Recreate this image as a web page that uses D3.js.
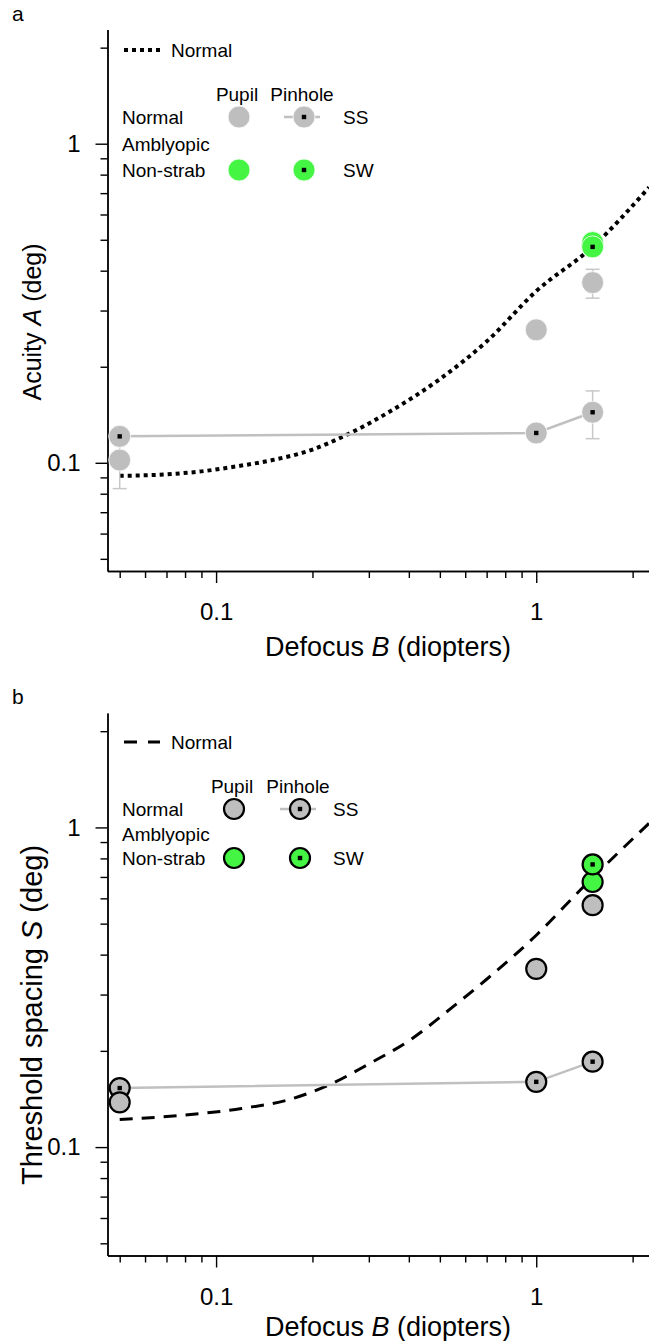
<!DOCTYPE html>
<html><head><meta charset="utf-8">
<script src="https://cdn.jsdelivr.net/npm/d3@7"></script>
<style>
html,body{margin:0;padding:0;background:#fff;}
svg text{font-family:"Liberation Sans",Arial,Helvetica,sans-serif;fill:#000;}
</style></head>
<body>
<svg id="chart" width="649" height="1341"></svg>
<script>
// ---------- data ----------
const defocusNormal = [0.05, 1, 1.5];
const defocusAmbly = [1.5];

// Panel a: acuity (deg)
const acuityPupilNormal = [0.102, 0.261, 0.367];
const acuityPupilNormalLo = [0.083, null, 0.328];
const acuityPupilNormalHi = [0.121, null, 0.404];
const acuityPinholeNormal = [0.121, 0.124, 0.144];
const acuityPinholeNormalLo = [null, null, 0.119];
const acuityPinholeNormalHi = [null, null, 0.168];
const acuityPupilAmbly = [0.49];
const acuityPinholeAmbly = [0.475];

// Panel a: normal model curve (dotted)
const curveADefocus = [0.05, 0.07, 0.09, 0.12, 0.15, 0.2, 0.25, 0.35, 0.5, 0.7, 1, 1.5, 2.25];
const curveAAcuity  = [0.091, 0.092, 0.094, 0.098, 0.102, 0.11, 0.121, 0.145, 0.183, 0.24, 0.345, 0.475, 0.73];

// Panel b: threshold spacing (deg)
const spacingPupilNormal = [0.138, 0.361, 0.571];
const spacingPinholeNormal = [0.153, 0.16, 0.185];
const spacingPupilAmbly = [0.675];
const spacingPinholeAmbly = [0.766];

// Panel b: normal model curve (dashed)
const curveSDefocus = [0.05, 0.08, 0.12, 0.17, 0.23, 0.3, 0.4, 0.55, 0.7, 1, 1.4, 2.25];
const curveSSpacing = [0.122, 0.126, 0.132, 0.141, 0.158, 0.182, 0.215, 0.275, 0.335, 0.46, 0.65, 1.03];

// ticks
const majorTicks = [0.1, 1];
const minorTicks = [0.05, 0.06, 0.07, 0.08, 0.09, 0.2, 0.3, 0.4, 0.5, 0.6, 0.7, 0.8, 0.9, 2];
const tickLabels = ["0.1", "1"];

// ---------- styles ----------
const GRAY = "#bebebe";
const GREEN = "#44f544";
const svg = d3.select("#chart");

function panel(cfg) {
  const g = svg.append("g");
  const x = d3.scaleLog().domain([0.0458, 2.25]).range([107.5, 649]);
  const y = d3.scaleLog().domain([0.0458, 2.28]).range([cfg.bottom, cfg.top]);

  // curve
  const line = d3.line().x(d => x(d[0])).y(d => y(d[1])).curve(d3.curveMonotoneX);
  g.append("path").datum(d3.zip(cfg.curveX, cfg.curveY))
    .attr("d", line).attr("fill", "none").attr("stroke", "#000")
    .attr("stroke-width", cfg.curveWidth).attr("stroke-dasharray", cfg.dash);

  // axes
  const fmt = d => tickLabels[majorTicks.indexOf(d)];
  const yMinor = d3.axisLeft(y).tickValues(minorTicks).tickSize(7).tickFormat("").tickSizeOuter(0);
  const yMajor = d3.axisLeft(y).tickValues(majorTicks).tickSize(12).tickPadding(15).tickFormat(fmt).tickSizeOuter(0);
  const xMinor = d3.axisBottom(x).tickValues(minorTicks).tickSize(7).tickFormat("").tickSizeOuter(0);
  const xMajor = d3.axisBottom(x).tickValues(majorTicks).tickSize(12).tickPadding(20).tickFormat(fmt).tickSizeOuter(0);
  const styleAxis = a => {
    a.selectAll("path,line").attr("stroke", "#000").attr("stroke-width", 1.4);
    a.selectAll("text").attr("font-size", 24).attr("font-family", "Liberation Sans, Arial, sans-serif");
  };
  g.append("g").attr("transform", `translate(107.5,0)`).call(yMinor).call(styleAxis);
  g.append("g").attr("transform", `translate(107.5,0)`).call(yMajor).call(styleAxis);
  g.append("g").attr("transform", `translate(0,${cfg.bottom})`).call(xMinor).call(styleAxis);
  g.append("g").attr("transform", `translate(0,${cfg.bottom})`).call(xMajor).call(styleAxis);

  // pinhole connecting line
  g.append("path").datum(d3.zip(defocusNormal, cfg.pinN))
    .attr("d", d3.line().x(d => x(d[0])).y(d => y(d[1])))
    .attr("fill", "none").attr("stroke", "#c0c0c0").attr("stroke-width", 2.5);

  // error bars
  if (cfg.errors) {
    cfg.errors.forEach(e => {
      defocusNormal.forEach((b, i) => {
        if (e.lo[i] == null) return;
        const cx = x(b);
        g.append("line").attr("x1", cx).attr("x2", cx).attr("y1", y(e.lo[i])).attr("y2", y(e.hi[i]))
          .attr("stroke", "#c8c8c8").attr("stroke-width", 1.5);
        [e.lo[i], e.hi[i]].forEach(v => g.append("line").attr("x1", cx - 7).attr("x2", cx + 7)
          .attr("y1", y(v)).attr("y2", y(v)).attr("stroke", "#c8c8c8").attr("stroke-width", 1.5));
      });
    });
  }

  const circ = (bx, vals, fill, dot) => {
    bx.forEach((b, i) => {
      g.append("circle").attr("cx", x(b)).attr("cy", y(vals[i])).attr("r", cfg.r)
        .attr("fill", fill).attr("stroke", cfg.stroke).attr("stroke-width", cfg.strokeW);
      if (dot) g.append("rect").attr("x", x(b) - 2.2).attr("y", y(vals[i]) - 2.2)
        .attr("width", 4.4).attr("height", 4.4).attr("fill", "#000");
    });
  };
  circ(defocusNormal, cfg.pinN, GRAY, true);
  circ(defocusNormal, cfg.pupN, GRAY, false);
  circ(defocusAmbly, cfg.pupA, GREEN, false);
  circ(defocusAmbly, cfg.pinA, GREEN, true);

  // panel letter
  g.append("text").attr("x", 12).attr("y", cfg.top - 9).attr("font-size", 21).text(cfg.letter);

  // axis titles
  const yt = g.append("text").attr("transform", `translate(${cfg.ytitleX},${cfg.ytitleY}) rotate(-90)`)
    .attr("text-anchor", "middle").attr("font-size", cfg.ytitleSize);
  cfg.ytitle.forEach(p => yt.append("tspan").attr("font-style", p[1] ? "italic" : "normal").text(p[0]));
  const xt = g.append("text").attr("x", 388).attr("y", cfg.xtitleY).attr("text-anchor", "middle").attr("font-size", 27);
  [["Defocus ", 0], ["B", 1], [" (diopters)", 0]].forEach(p => xt.append("tspan").attr("font-style", p[1] ? "italic" : "normal").text(p[0]));

  // legend
  const L = cfg.leg;
  const lg = g.append("g").attr("font-size", 19);
  lg.append("line").attr("x1", 124).attr("x2", 160).attr("y1", L.y0).attr("y2", L.y0)
    .attr("stroke", "#000").attr("stroke-width", cfg.curveWidth).attr("stroke-dasharray", cfg.legDash);
  lg.append("text").attr("x", 171).attr("y", L.y0).attr("dy", "0.35em").text("Normal");
  lg.append("text").attr("x", L.cPup).attr("y", L.y1).attr("dy", "0.35em").attr("text-anchor", "middle").text("Pupil");
  lg.append("text").attr("x", L.cPin).attr("y", L.y1).attr("dy", "0.35em").attr("text-anchor", "middle").text("Pinhole");
  lg.append("text").attr("x", 122).attr("y", L.y2).attr("dy", "0.35em").text("Normal");
  lg.append("text").attr("x", 122).attr("y", L.y3).attr("dy", "0.35em").text("Amblyopic");
  lg.append("text").attr("x", 122).attr("y", L.y4).attr("dy", "0.35em").text("Non-strab");
  lg.append("text").attr("x", L.xSS).attr("y", L.y2).attr("dy", "0.35em").text("SS");
  lg.append("text").attr("x", L.xSS).attr("y", L.y4).attr("dy", "0.35em").text("SW");
  lg.append("line").attr("x1", L.cPin - 18).attr("x2", L.cPin + 18).attr("y1", L.y2).attr("y2", L.y2)
    .attr("stroke", "#c0c0c0").attr("stroke-width", 2.5);
  const lc = (cx, cy, fill, dot) => {
    lg.append("circle").attr("cx", cx).attr("cy", cy).attr("r", cfg.r).attr("fill", fill)
      .attr("stroke", cfg.stroke).attr("stroke-width", cfg.strokeW);
    if (dot) lg.append("rect").attr("x", cx - 2.2).attr("y", cy - 2.2).attr("width", 4.4).attr("height", 4.4).attr("fill", "#000");
  };
  lc(L.cPup + 2, L.y2, GRAY, false);
  lc(L.cPin + 2, L.y2, GRAY, true);
  lc(L.cPup + 2, L.y4, GREEN, false);
  lc(L.cPin + 2, L.y4, GREEN, true);
}

panel({
  letter: "a", top: 29.5, bottom: 571, xtitleY: 656,
  curveX: curveADefocus, curveY: curveAAcuity, curveWidth: 4, dash: "4,4", legDash: "4,4",
  pupN: acuityPupilNormal, pinN: acuityPinholeNormal, pupA: acuityPupilAmbly, pinA: acuityPinholeAmbly,
  errors: [{lo: acuityPupilNormalLo, hi: acuityPupilNormalHi}, {lo: acuityPinholeNormalLo, hi: acuityPinholeNormalHi}],
  r: 11, stroke: "#fff", strokeW: 0.8,
  ytitle: [["Acuity ", 0], ["A", 1], [" (deg)", 0]], ytitleX: 41, ytitleY: 322, ytitleSize: 25,
  leg: {y0: 50, y1: 94, y2: 117, y3: 144, y4: 170, cPup: 237, cPin: 302, xSS: 343}
});
panel({
  letter: "b", top: 713, bottom: 1255.5, xtitleY: 1336,
  curveX: curveSDefocus, curveY: curveSSpacing, curveWidth: 3, dash: "13,9", legDash: "13,11",
  pupN: spacingPupilNormal, pinN: spacingPinholeNormal, pupA: spacingPupilAmbly, pinA: spacingPinholeAmbly,
  errors: null,
  r: 10, stroke: "#000", strokeW: 2.2,
  ytitle: [["Threshold spacing ", 0], ["S", 1], [" (deg)", 0]], ytitleX: 42, ytitleY: 1015, ytitleSize: 29,
  leg: {y0: 742, y1: 786, y2: 809, y3: 834, y4: 858, cPup: 232, cPin: 298, xSS: 333}
});
</script>
</body></html>
